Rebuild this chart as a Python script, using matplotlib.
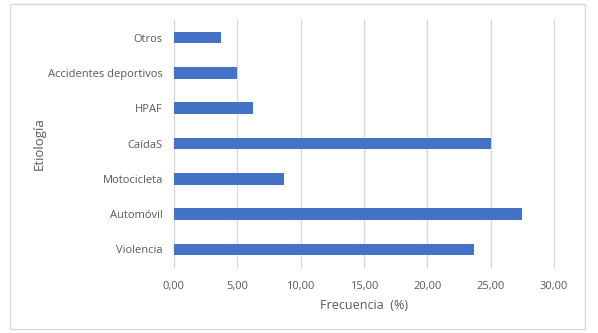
import matplotlib.pyplot as plt
from matplotlib.patches import Rectangle

categories = ["Violencia", "Automóvil", "Motocicleta", "CaídaS", "HPAF",
              "Accidentes deportivos", "Otros"]
frecuencia = [23.7, 27.5, 8.7, 25.0, 6.2, 5.0, 3.7]
xticks = [0, 5, 10, 15, 20, 25, 30]
xtick_labels = ["0,00", "5,00", "10,00", "15,00", "20,00", "25,00", "30,00"]

plt.rcParams['font.family'] = ['Open Sans', 'DejaVu Sans']
text_color = "#595959"

fig = plt.figure(figsize=(5.98, 3.33), dpi=100)
ax = fig.add_axes([174 / 598, 66 / 333, 380 / 598, 247 / 333])

ax.barh(range(len(categories)), frecuencia, height=0.33, color="#4472C4",
        zorder=3)

ax.set_xlim(0, 30)
ax.set_ylim(-0.5, len(categories) - 0.5)
ax.set_xticks(xticks)
ax.set_xticklabels(xtick_labels)
ax.set_yticks(range(len(categories)))
ax.set_yticklabels(categories)
ax.tick_params(axis="both", length=0, labelsize=8, colors=text_color)
ax.tick_params(axis="x", pad=10)
ax.tick_params(axis="y", pad=8)
ax.grid(axis="x", color="#D9D9D9", linewidth=1, zorder=0)
for gl in ax.get_xgridlines():
    gl.set_clip_on(False)
for s in ax.spines.values():
    s.set_visible(False)

ax.set_xlabel("Frecuencia  (%)", fontsize=9, color=text_color, labelpad=5)
ax.set_ylabel("Etiología", fontsize=9.5, color=text_color, labelpad=2)

# outer chart frame
fig.patches.append(Rectangle((10 / 598, 4 / 333), 575 / 598, 325 / 333,
                             transform=fig.transFigure, fill=False,
                             edgecolor="#D9D9D9", linewidth=1))

fig.savefig("out.png", dpi=100)
